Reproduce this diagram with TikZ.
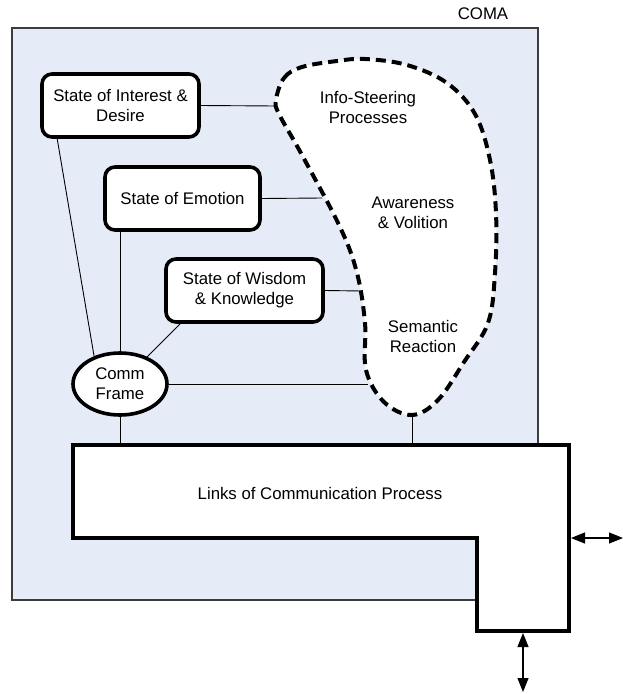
\documentclass[tikz,border=0pt]{standalone}
\usepackage{fontspec}
\setmainfont{Liberation Sans}
\usetikzlibrary{shapes.geometric,arrows.meta}
\definecolor{panel}{RGB}{230,236,247}
\definecolor{rim}{RGB}{60,60,60}
\begin{document}
\begin{tikzpicture}[x=1pt,y=-1pt,
  every node/.style={font=\fontsize{16.8}{20}\selectfont},
  statebox/.style={draw,line width=3.6pt,rounded corners=10pt,fill=white,
    align=center,minimum width=157pt,minimum height=63pt,inner sep=0pt},
  frame/.style={draw,ellipse,line width=3.6pt,fill=white,align=center,
    minimum width=94pt,minimum height=62pt,inner sep=0pt},
  link/.style={line width=0.9pt},
  thickrim/.style={line width=4pt,line join=miter},
  twoway/.style={line width=1.1pt,
    {Triangle[length=14pt,width=11pt]}-{Triangle[length=14pt,width=11pt]}},
  label/.style={align=center,inner sep=0pt}]
\useasboundingbox (0,0) rectangle (623,694);

% system boundary
\fill[panel] (12,28) rectangle (538,600);
\draw[rim,line width=1.1pt] (12,28) rectangle (538,600);
\node[inner sep=0pt] (coma) at (483,14) {COMA};

% state nodes
\node[statebox] (interest) at (120.5,105.5) {State of Interest \&\\Desire};
\node[statebox,minimum width=155pt] (emotion) at (182.5,198.5) {State of Emotion};
\node[statebox] (wisdom) at (244.5,290.5) {State of Wisdom\\\& Knowledge};
\node[frame] (comm) at (120,384) {Comm\\Frame};

% contact points on the dashed region and the links block
\coordinate (bI) at (276,106);
\coordinate (bE) at (322,198);
\coordinate (bW) at (362,291);
\coordinate (bC) at (368,384);
\coordinate (bB) at (412,415);
\coordinate (lnw) at (73,445);
\coordinate (lne) at (569,445);
\coordinate (lse) at (569,631);
\coordinate (lsi) at (477,631);
\coordinate (lci) at (477,538);
\coordinate (lsw) at (73,538);
\coordinate (lr) at (571,538);
\coordinate (lb) at (523,633);
\coordinate (outR) at (623,538);
\coordinate (outB) at (523,692);

% connectors
\draw[link] (interest.east) -- (bI);
\draw[link] ([xshift=17pt]interest.south west) -- (comm.133);
\draw[link] (emotion.east) -- (bE);
\draw[link] (emotion.south -| comm.north) -- (comm.north);
\draw[link] (wisdom.east) -- (bW);
\draw[link] ([xshift=16pt]wisdom.south west) -- (comm.45);
\draw[link] (comm.east) -- (bC);
\draw[link] (comm.south) -- (comm.south |- lnw);
\draw[link] (bB) -- (bB |- lnw);

% awareness region
\draw[fill=white,line width=4pt,dash pattern=on 10pt off 6pt]
  plot[smooth cycle,tension=0.6] coordinates {
    (276,100) (284,78) (302,67) (337,61) (365,59) (407,65) (447,83)
    (475,114) (490,160) (496,213) (495,273) (488,323) (464,362)
    (438,400) (412,415) (384,402) (366,370) (365,323) (357,273)
    (340,227) (302,155) (279,114)};
\node[label] (steer) at (368,107) {Info-Steering\\Processes};
\node[label] (aware) at (413,213) {Awareness\\\& Volition};
\node[label] (sem) at (423,336) {Semantic\\Reaction};

% links of communication block
\draw[thickrim,fill=white] (lnw) -- (lne) -- (lse) -- (lsi) -- (lci) -- (lsw) -- cycle;
\node[inner sep=0pt] (links) at (320,493) {Links of Communication Process};

% outside exchanges
\draw[twoway] (lr) -- (outR);
\draw[twoway] (lb) -- (outB);
\end{tikzpicture}
\end{document}
